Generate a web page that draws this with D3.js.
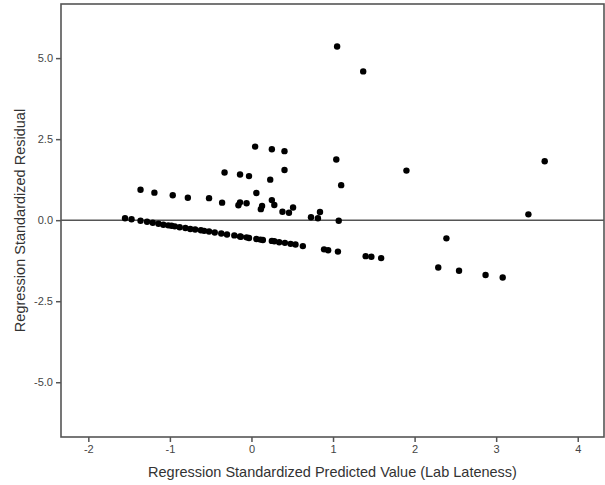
<!DOCTYPE html>
<html>
<head>
<meta charset="utf-8">
<script src="https://cdn.jsdelivr.net/npm/d3@7"></script>
<style>
  html, body { margin: 0; padding: 0; background: #fff; }
  svg { display: block; }
  text { font-family: Arial, "Liberation Sans", sans-serif; }
</style>
</head>
<body>
<svg id="chart" width="605" height="485"></svg>
<script>
// Standardized predicted values (x) and standardized residuals (y)
const predicted = [
  // lower band
  -1.55, -1.47, -1.36, -1.28, -1.21, -1.14, -1.08, -1.02, -0.98, -0.94, -0.88, -0.81,
  -0.75, -0.69, -0.62, -0.58, -0.52, -0.45, -0.37, -0.30, -0.21, -0.14, -0.13, -0.06,
  -0.03, 0.06, 0.11, 0.14, 0.25, 0.28, 0.34, 0.41, 0.48, 0.54, 0.63, 0.89, 0.94, 1.06,
  1.40, 1.47, 1.59,
  // scattered points
  1.05, 1.37, 3.595, 1.90, 3.395, 2.39, 2.29, 2.545, 2.87, 3.08,
  0.045, 0.25, 0.405, 1.04, 1.10, 0.84, 0.73, 0.815, 1.07,
  -0.14, -0.03, 0.405, 0.23, 0.06, -0.14, -0.06, -0.16, 0.25, 0.28, 0.13, 0.115,
  0.38, 0.46, 0.51, -1.36, -1.19, -0.965, -0.78, -0.52, -0.36, -0.33
];
const residual = [
  0.06, 0.03, -0.02, -0.05, -0.08, -0.11, -0.14, -0.16, -0.17, -0.19, -0.22, -0.24,
  -0.27, -0.29, -0.31, -0.33, -0.35, -0.38, -0.41, -0.44, -0.47, -0.50, -0.51, -0.53,
  -0.55, -0.58, -0.60, -0.61, -0.64, -0.65, -0.68, -0.70, -0.73, -0.75, -0.80, -0.90, -0.93, -0.97,
  -1.11, -1.13, -1.17,
  5.36, 4.59, 1.82, 1.53, 0.18, -0.56, -1.46, -1.56, -1.69, -1.77,
  2.27, 2.19, 2.13, 1.87, 1.08, 0.25, 0.09, 0.06, -0.02,
  1.41, 1.36, 1.55, 1.25, 0.84, 0.55, 0.52, 0.46, 0.62, 0.47, 0.44, 0.34,
  0.26, 0.23, 0.39, 0.94, 0.85, 0.77, 0.69, 0.68, 0.54, 1.47
];
const xTicks = [-2, -1, 0, 1, 2, 3, 4];
const yTicks = [5.0, 2.5, 0.0, -2.5, -5.0];
const xTitle = "Regression Standardized Predicted Value (Lab Lateness)";
const yTitle = "Regression Standardized Residual";

const svg = d3.select("#chart");
const frame = { left: 61, right: 604, top: 4, bottom: 437 };

const x = d3.scaleLinear().domain([-2.335, 4.322]).range([frame.left, frame.right]);
const y = d3.scaleLinear().domain([-6.69, 6.67]).range([frame.bottom, frame.top]);

const axisColor = "#555";
const labelColor = "#444";

// plot frame
svg.append("rect")
  .attr("x", frame.left).attr("y", frame.top)
  .attr("width", frame.right - frame.left).attr("height", frame.bottom - frame.top)
  .attr("fill", "none").attr("stroke", axisColor).attr("stroke-width", 1.6);

// x axis
const gx = svg.append("g")
  .attr("transform", `translate(0,${frame.bottom})`)
  .call(d3.axisBottom(x).tickValues(xTicks).tickSize(5).tickPadding(3).tickFormat(d3.format("d")));
gx.select(".domain").remove();
gx.selectAll(".tick line").attr("stroke", axisColor).attr("stroke-width", 1.5);
gx.selectAll(".tick text")
  .attr("fill", labelColor).style("font-size", "11px")
  .style("font-family", "Arial, 'Liberation Sans', sans-serif")
  .text(d => String(d));

// y axis
const gy = svg.append("g")
  .attr("transform", `translate(${frame.left},0)`)
  .call(d3.axisLeft(y).tickValues(yTicks).tickSize(5).tickPadding(3));
gy.select(".domain").remove();
gy.selectAll(".tick line").attr("stroke", axisColor).attr("stroke-width", 1.5);
gy.selectAll(".tick text")
  .attr("fill", labelColor).style("font-size", "11px")
  .style("font-family", "Arial, 'Liberation Sans', sans-serif")
  .text(d => d.toFixed(1));

// zero reference line
svg.append("line")
  .attr("x1", frame.left).attr("x2", frame.right)
  .attr("y1", y(0)).attr("y2", y(0))
  .attr("stroke", axisColor).attr("stroke-width", 1.6);

// points
svg.append("g")
  .selectAll("circle")
  .data(d3.range(predicted.length))
  .join("circle")
  .attr("cx", i => x(predicted[i]))
  .attr("cy", i => y(residual[i]))
  .attr("r", 3.2)
  .attr("fill", "#000");

// axis titles
svg.append("text")
  .attr("x", (frame.left + frame.right) / 2)
  .attr("y", 477)
  .attr("text-anchor", "middle")
  .attr("fill", "#333")
  .style("font-size", "14.5px")
  .text(xTitle);

svg.append("text")
  .attr("transform", `translate(25,${(frame.top + frame.bottom) / 2}) rotate(-90)`)
  .attr("text-anchor", "middle")
  .attr("fill", "#333")
  .style("font-size", "14.5px")
  .text(yTitle);
</script>
</body>
</html>
